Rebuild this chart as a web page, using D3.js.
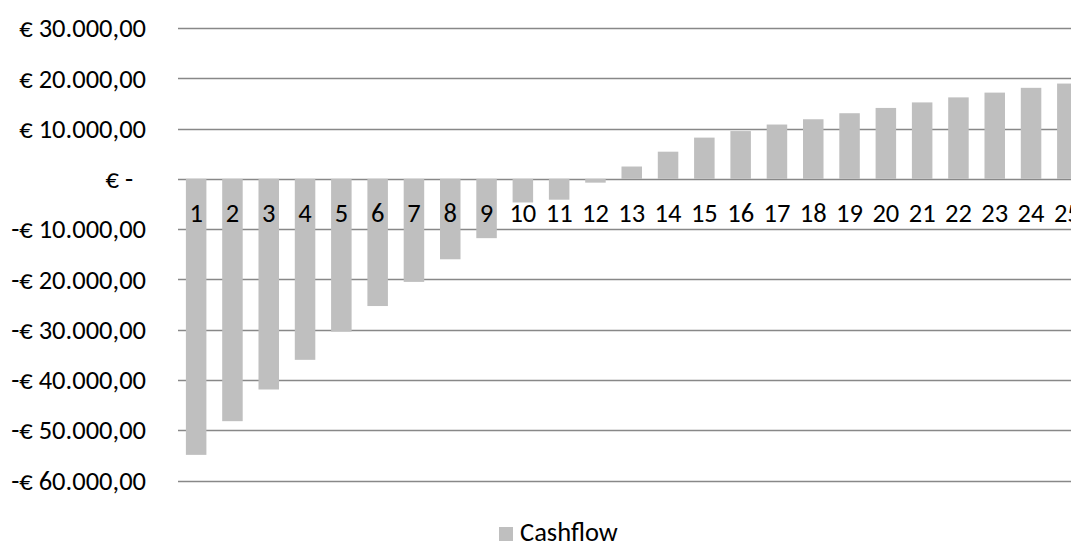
<!DOCTYPE html>
<html>
<head>
<meta charset="utf-8">
<script src="https://cdn.jsdelivr.net/npm/d3@7"></script>
<style>
  html, body { margin: 0; padding: 0; background: #fff; }
  svg { display: block; }
  text { font-family: Carlito, Calibri, "Open Sans", sans-serif; fill: #000; }
</style>
</head>
<body>
<svg id="chart" width="1071" height="543"></svg>
<script>
const years = d3.range(1, 26);
const cashflow = [-54900, -48200, -41900, -36000, -30400, -25300, -20500, -16000, -11800, -4700,
                  -4150, -760, 2450, 5400, 8200, 9500, 10800, 11850, 13050, 14100,
                  15200, 16200, 17150, 18100, 18950];
const yTicks = [30000, 20000, 10000, 0, -10000, -20000, -30000, -40000, -50000, -60000];
const seriesName = "Cashflow";

const svg = d3.select("#chart");
const left = 178, plotW = 907.5;
const x = d3.scaleBand().domain(years).range([left, left + plotW]).paddingInner(0.435).paddingOuter(0.2175);
const y = d3.scaleLinear().domain([-60000, 30000]).range([480.5, 28]);
const FS = 26.5;

const fmt = v => {
  if (v === 0) return "€ -";
  const s = d3.format(",.2f")(Math.abs(v)).replace(/,/g, "#").replace(".", ",").replace(/#/g, ".");
  return (v < 0 ? "-€ " : "€ ") + s;
};

// gridlines
svg.append("g").selectAll("line").data(yTicks).join("line")
  .attr("x1", left).attr("x2", 1071)
  .attr("y1", d => Math.round(y(d)) + 0.5).attr("y2", d => Math.round(y(d)) + 0.5)
  .attr("stroke", "#888").attr("stroke-width", 1.3);

// y labels
svg.append("g").selectAll("text").data(yTicks).join("text")
  .attr("x", d => d === 0 ? 133 : 146)
  .attr("y", d => y(d))
  .attr("dy", "0.35em")
  .attr("text-anchor", "end")
  .attr("font-size", FS)
  .text(fmt);

// bars
svg.append("g").selectAll("rect").data(cashflow).join("rect")
  .attr("x", (d, i) => x(years[i]))
  .attr("width", x.bandwidth())
  .attr("y", d => y(Math.max(0, d)))
  .attr("height", d => Math.abs(y(d) - y(0)))
  .attr("fill", "#bfbfbf");

// category labels
svg.append("g").selectAll("text").data(years).join("text")
  .attr("x", d => x(d) + x.bandwidth() / 2)
  .attr("y", 221.5)
  .attr("text-anchor", "middle")
  .attr("font-size", FS)
  .text(d => d);

// legend
svg.append("rect").attr("x", 499).attr("y", 527).attr("width", 14).attr("height", 14).attr("fill", "#bfbfbf");
svg.append("text").attr("x", 520).attr("y", 540.5).attr("font-size", FS).text(seriesName);
</script>
</body>
</html>
